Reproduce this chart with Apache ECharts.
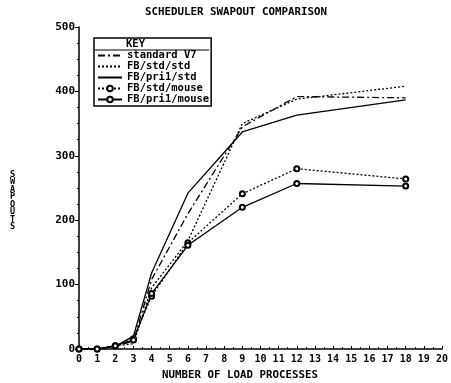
<!DOCTYPE html>
<html>
<head>
<meta charset="utf-8">
<script src="https://cdn.jsdelivr.net/npm/echarts@6/dist/echarts.min.js"></script>
<style>
  html, body { margin: 0; padding: 0; background: #fff; }
  #main { width: 451px; height: 383px; }
</style>
</head>
<body>
<div id="main"></div>
<script>
  // load processes on the x axis
  var xs = [0, 1, 2, 3, 4, 6, 9, 12, 18];
  var v7 = [0, 0, 5, 12, 108, 210, 345, 392, 390];
  var stdStd = [0, 0, 5, 8, 95, 168, 350, 388, 408];
  var pri1Std = [0, 0, 4, 20, 118, 242, 337, 363, 387];
  var stdMouse = [0, 0, 5, 16, 82, 165, 241, 280, 264];
  var pri1Mouse = [0, 0, 5, 14, 86, 161, 220, 257, 253];
  var names = ["standard V7", "FB/std/std", "FB/pri1/std", "FB/std/mouse", "FB/pri1/mouse"];

  function pairs(ys) {
    return xs.map(function (x, i) { return [x, ys[i]]; });
  }

  var font = "DejaVu Sans Mono";
  var myChart = echarts.init(document.getElementById('main'));

  function mkSeries(name, ys, dash, marker) {
    return {
      name: name,
      type: "line",
      data: pairs(ys),
      symbol: marker ? "emptyCircle" : "none",
      symbolSize: 5,
      showSymbol: !!marker,
      animation: false,
      itemStyle: { color: "#000", borderColor: "#000", borderWidth: 1.2 },
      lineStyle: { color: "#000", width: 1.3, type: dash }
    };
  }

  // line-only series get an invisible dot in the key
  var legendData = names.map(function (n, i) {
    if (i < 3) return { name: n, itemStyle: { opacity: 0 } };
    return { name: n };
  });

  var option = {
    backgroundColor: "#fff",
    animation: false,
    legend: {
      data: legendData,
      orient: "vertical",
      left: 94,
      top: 38,
      padding: [12, 2, 1, 3],
      itemGap: 0,
      itemWidth: 24,
      itemHeight: 7,
      borderColor: "#000",
      borderWidth: 1.5,
      textStyle: { fontFamily: font, fontSize: 10.5, lineHeight: 9.5, fontWeight: "bold", color: "#000" }
    },
    grid: { left: 79, right: 9, top: 27, bottom: 34 },
    xAxis: {
      type: "value",
      min: 0,
      max: 20,
      interval: 1,
      axisLine: { lineStyle: { color: "#000", width: 1.5 } },
      axisTick: { inside: true, length: 3, lineStyle: { color: "#000" } },
      minorTick: { show: true, splitNumber: 2, length: 2, lineStyle: { color: "#000" } },
      axisLabel: { fontFamily: font, fontSize: 10, fontWeight: "bold", color: "#000", margin: 5 },
      splitLine: { show: false }
    },
    yAxis: {
      type: "value",
      min: 0,
      max: 500,
      interval: 100,
      axisLine: { show: true, lineStyle: { color: "#000", width: 1.5 } },
      axisTick: { show: true, length: 4, lineStyle: { color: "#000" } },
      minorTick: { show: true, splitNumber: 4, length: 2, lineStyle: { color: "#000" } },
      axisLabel: { fontFamily: font, fontSize: 11, fontWeight: "bold", color: "#000", margin: 4 },
      splitLine: { show: false }
    },
    graphic: [
      {
        type: "text",
        left: 145,
        top: 7,
        style: { text: "SCHEDULER SWAPOUT COMPARISON", font: "bold 10.8px " + font, fill: "#000" }
      },
      {
        type: "text",
        left: 162,
        top: 370,
        style: { text: "NUMBER OF LOAD PROCESSES", font: "bold 10.8px " + font, fill: "#000" }
      },
      {
        type: "text",
        left: 10,
        top: 170,
        style: {
          text: "S\nW\nA\nP\nO\nU\nT\nS",
          font: "bold 8.5px " + font,
          lineHeight: 7.5,
          fill: "#000"
        }
      },
      {
        type: "text",
        left: 126,
        top: 39,
        style: { text: "KEY", font: "bold 10.5px " + font, fill: "#000" }
      },
      {
        type: "line",
        shape: { x1: 95, y1: 50, x2: 209, y2: 50 },
        style: { stroke: "#000", lineWidth: 1 }
      }
    ],
    series: [
      mkSeries(names[0], v7, [7, 3, 2, 3], false),
      mkSeries(names[1], stdStd, [2, 2], false),
      mkSeries(names[2], pri1Std, "solid", false),
      mkSeries(names[3], stdMouse, [2, 2], true),
      mkSeries(names[4], pri1Mouse, "solid", true)
    ]
  };

  myChart.setOption(option);
</script>
</body>
</html>
